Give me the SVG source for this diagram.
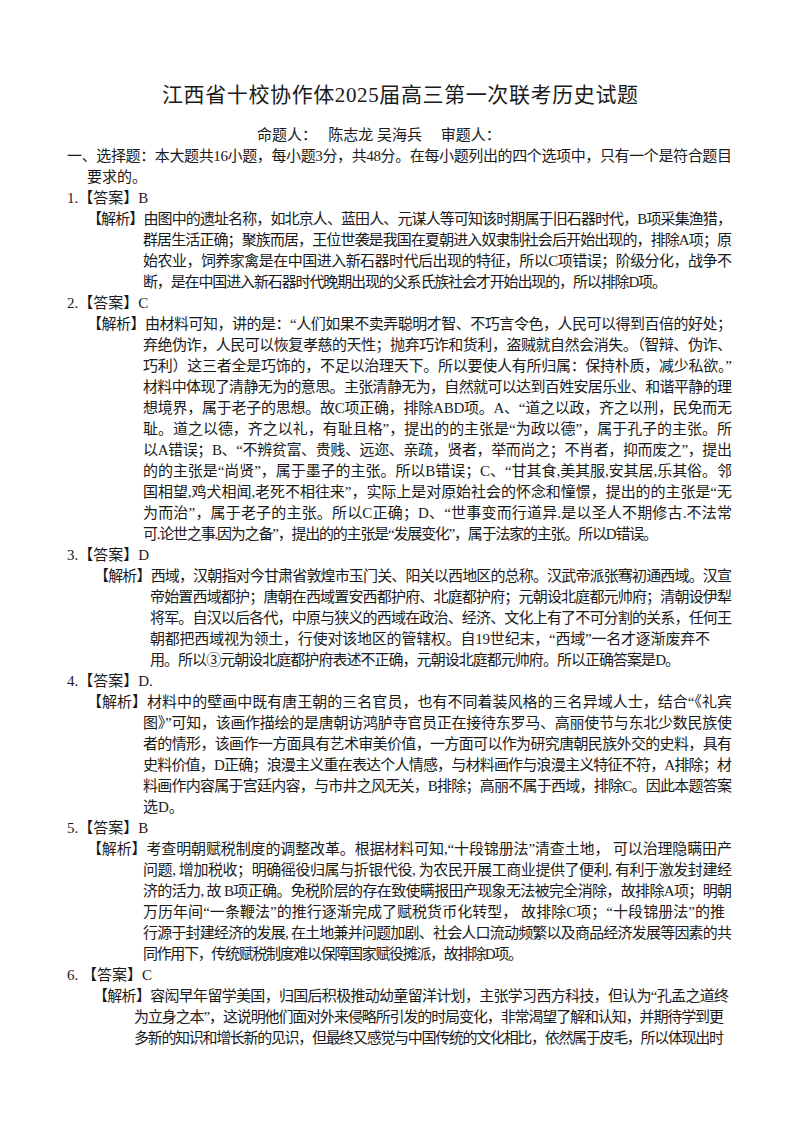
<svg xmlns="http://www.w3.org/2000/svg" width="800" height="1132" viewBox="0 0 800 1132">
<style>
text{font-family:"Liberation Serif","Noto Sans CJK SC",serif;fill:#1a1a1a;font-size:15px}
.t{font-size:21px}
</style>
<rect width="800" height="1132" fill="#fff"/>
<g id="title">
<text class="t" x="400" y="102" text-anchor="middle" textLength="476" lengthAdjust="spacing">江西省十校协作体2025届高三第一次联考历史试题</text>
<text x="257" y="140" xml:space="preserve">命题人：   陈志龙 吴海兵     审题人：</text>
</g>
<g id="intro">
<text x="67" y="161" textLength="665" lengthAdjust="spacing">一、选择题：本大题共16小题，每小题3分，共48分。在每小题列出的四个选项中，只有一个是符合题目</text>
<text x="87" y="182">要求的。</text>
</g>
<g id="q1">
<text x="67" y="203">1.【答案】B</text>
<text x="87" y="224" textLength="645" lengthAdjust="spacing">【解析】由图中的遗址名称，如北京人、蓝田人、元谋人等可知该时期属于旧石器时代，B项采集渔猎，</text>
<text x="143" y="245" textLength="589" lengthAdjust="spacing">群居生活正确；聚族而居，王位世袭是我国在夏朝进入奴隶制社会后开始出现的，排除A项；原</text>
<text x="143" y="266" textLength="589" lengthAdjust="spacing">始农业，饲养家禽是在中国进入新石器时代后出现的特征，所以C项错误；阶级分化，战争不</text>
<text x="143" y="287" textLength="524" lengthAdjust="spacing">断，是在中国进入新石器时代晚期出现的父系氏族社会才开始出现的，所以排除D项。</text>
</g>
<g id="q2">
<text x="67" y="308">2.【答案】C</text>
<text x="87" y="329" textLength="645" lengthAdjust="spacing">【解析】由材料可知，讲的是：“人们如果不卖弄聪明才智、不巧言令色，人民可以得到百倍的好处；</text>
<text x="143" y="350" textLength="589" lengthAdjust="spacing">弃绝伪诈，人民可以恢复孝慈的天性；抛弃巧诈和货利，盗贼就自然会消失。（智辩、伪诈、</text>
<text x="143" y="371" textLength="589" lengthAdjust="spacing">巧利）这三者全是巧饰的，不足以治理天下。所以要使人有所归属：保持朴质，减少私欲。”</text>
<text x="143" y="392" textLength="589" lengthAdjust="spacing">材料中体现了清静无为的意思。主张清静无为，自然就可以达到百姓安居乐业、和谐平静的理</text>
<text x="143" y="413" textLength="589" lengthAdjust="spacing">想境界，属于老子的思想。故C项正确，排除ABD项。A、“道之以政，齐之以刑，民免而无</text>
<text x="143" y="434" textLength="589" lengthAdjust="spacing">耻。道之以德，齐之以礼，有耻且格”，提出的的主张是“为政以德”，属于孔子的主张。所</text>
<text x="143" y="455" textLength="589" lengthAdjust="spacing">以A错误；B、“不辨贫富、贵贱、远迩、亲疏，贤者，举而尚之；不肖者，抑而废之”，提出</text>
<text x="143" y="476" textLength="589" lengthAdjust="spacing">的的主张是“尚贤”，属于墨子的主张。所以B错误；C、“甘其食,美其服,安其居,乐其俗。邻</text>
<text x="143" y="497" textLength="589" lengthAdjust="spacing">国相望,鸡犬相闻,老死不相往来”，实际上是对原始社会的怀念和憧憬，提出的的主张是“无</text>
<text x="143" y="518" textLength="589" lengthAdjust="spacing">为而治”，属于老子的主张。所以C正确；D、“世事变而行道异.是以圣人不期修古.不法常</text>
<text x="143" y="539" textLength="515" lengthAdjust="spacing">可.论世之事.因为之备”，提出的的主张是“发展变化”，属于法家的主张。所以D错误。</text>
</g>
<g id="q3">
<text x="67" y="560">3.【答案】D</text>
<text x="94" y="581" textLength="638" lengthAdjust="spacing">【解析】西域，汉朝指对今甘肃省敦煌市玉门关、阳关以西地区的总称。汉武帝派张骞初通西域。汉宣</text>
<text x="150" y="602" textLength="582" lengthAdjust="spacing">帝始置西域都护；唐朝在西域置安西都护府、北庭都护府；元朝设北庭都元帅府；清朝设伊犁</text>
<text x="150" y="623" textLength="582" lengthAdjust="spacing">将军。自汉以后各代，中原与狭义的西域在政治、经济、文化上有了不可分割的关系，任何王</text>
<text x="150" y="644" textLength="560" lengthAdjust="spacing">朝都把西域视为领土，行使对该地区的管辖权。自19世纪末，“西域”一名才逐渐废弃不</text>
<text x="150" y="665" textLength="530" lengthAdjust="spacing">用。所以③元朝设北庭都护府表述不正确，元朝设北庭都元帅府。所以正确答案是D。</text>
</g>
<g id="q4">
<text x="67" y="686">4.【答案】D.</text>
<text x="87" y="707" textLength="645" lengthAdjust="spacing">【解析】材料中的壁画中既有唐王朝的三名官员，也有不同着装风格的三名异域人士，结合“《礼宾</text>
<text x="143" y="728" textLength="589" lengthAdjust="spacing">图》”可知，该画作描绘的是唐朝访鸿胪寺官员正在接待东罗马、高丽使节与东北少数民族使</text>
<text x="143" y="749" textLength="589" lengthAdjust="spacing">者的情形，该画作一方面具有艺术审美价值，一方面可以作为研究唐朝民族外交的史料，具有</text>
<text x="143" y="770" textLength="589" lengthAdjust="spacing">史料价值，D正确；浪漫主义重在表达个人情感，与材料画作与浪漫主义特征不符，A排除；材</text>
<text x="143" y="791" textLength="589" lengthAdjust="spacing">料画作内容属于宫廷内容，与市井之风无关，B排除；高丽不属于西域，排除C。因此本题答案</text>
<text x="143" y="812">选D。</text>
</g>
<g id="q5">
<text x="67" y="833">5.【答案】B</text>
<text x="87" y="854" textLength="645" lengthAdjust="spacing">【解析】考查明朝赋税制度的调整改革。根据材料可知,“十段锦册法”清查土地， 可以治理隐瞒田产</text>
<text x="143" y="875" textLength="589" lengthAdjust="spacing">问题, 增加税收；明确徭役归属与折银代役, 为农民开展工商业提供了便利, 有利于激发封建经</text>
<text x="143" y="896" textLength="589" lengthAdjust="spacing">济的活力, 故 B项正确。免税阶层的存在致使瞒报田产现象无法被完全消除，故排除A项；明朝</text>
<text x="143" y="917" textLength="582" lengthAdjust="spacing">万历年间“一条鞭法”的推行逐渐完成了赋税货币化转型， 故排除C项；“十段锦册法”的推</text>
<text x="143" y="938" textLength="589" lengthAdjust="spacing">行源于封建经济的发展, 在土地兼并问题加剧、社会人口流动频繁以及商品经济发展等因素的共</text>
<text x="143" y="959" textLength="380" lengthAdjust="spacing">同作用下，传统赋税制度难以保障国家赋役摊派，故排除D项。</text>
</g>
<g id="q6">
<text x="67" y="980" xml:space="preserve">6. 【答案】C</text>
<text x="93" y="1001" textLength="636" lengthAdjust="spacing">【解析】容闳早年留学美国，归国后积极推动幼童留洋计划，主张学习西方科技，但认为“孔孟之道终</text>
<text x="134" y="1022" textLength="590" lengthAdjust="spacing">为立身之本”，这说明他们面对外来侵略所引发的时局变化，非常渴望了解和认知，并期待学到更</text>
<text x="134" y="1043" textLength="590" lengthAdjust="spacing">多新的知识和增长新的见识，但最终又感觉与中国传统的文化相比，依然属于皮毛，所以体现出时</text>
</g>
</svg>
